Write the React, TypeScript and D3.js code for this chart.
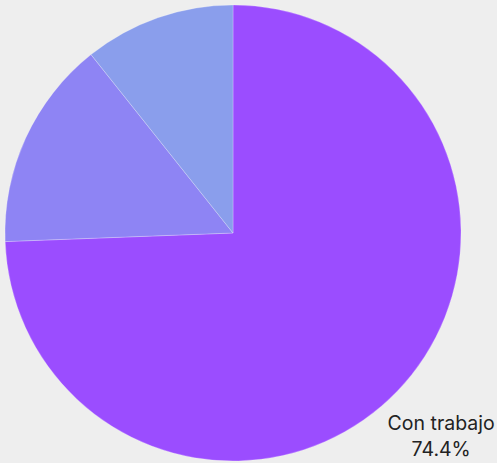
import React from 'react';
import * as d3 from 'd3';

const categories: string[] = ['Con trabajo', 'Otro', 'Sin trabajo'];
const shares: number[] = [74.4, 14.9, 10.7];
const colors: string[] = ['#9b4dff', '#8e84f4', '#8a9eec'];

const W = 497;
const H = 463;

const App = () => {
  const cx = 233;
  const cy = 233;
  const radius = 228;

  const pie = d3.pie<number>().sort(null).value(d => d);
  const arcs = pie(shares);
  const arc = d3.arc<d3.PieArcDatum<number>>().innerRadius(0).outerRadius(radius);
  const labelArc = d3.arc<d3.PieArcDatum<number>>().innerRadius(289).outerRadius(289);

  const main = arcs[0];
  const [lx, ly] = labelArc.centroid(main);

  return (
    <svg width={W} height={H} style={{position: 'absolute', left: 0, top: 0, background: '#eeeeee'}}
         fontFamily="Inter, 'Noto Sans', sans-serif">
      <g transform={`translate(${cx},${cy})`}>
        {arcs.map((a, i) => (
          <path key={categories[i]} d={arc(a) || ''} fill={colors[i]} stroke="#ffffff" strokeOpacity={0.4} strokeWidth={0.6}/>
        ))}
        <text x={lx} y={ly} textAnchor="middle" fontSize={19.5} fill="#222">
          <tspan x={lx} dy={-3.5}>{categories[0]}</tspan>
          <tspan x={lx} dy={26}>{d3.format('.1f')(shares[0])}%</tspan>
        </text>
      </g>
    </svg>
  );
};

export default App;
